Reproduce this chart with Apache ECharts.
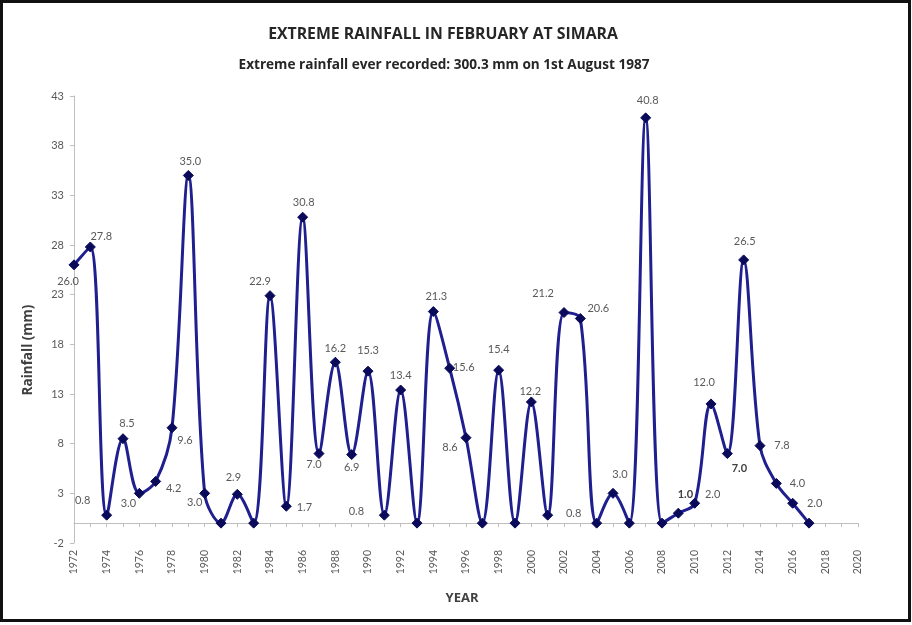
<!DOCTYPE html>
<html>
<head>
<meta charset="utf-8">
<script src="https://cdn.jsdelivr.net/npm/echarts@6/dist/echarts.min.js"></script>
<style>
html,body{margin:0;padding:0;background:#fff;}
#chart{width:912px;height:625px;}
</style>
</head>
<body>
<div id="chart"></div>
<script>
// ---- data ----
var years = [1972,1973,1974,1975,1976,1977,1978,1979,1980,1981,1982,1983,1984,1985,1986,1987,1988,1989,1990,1991,1992,1993,1994,1995,1996,1997,1998,1999,2000,2001,2002,2003,2004,2005,2006,2007,2008,2009,2010,2011,2012,2013,2014,2015,2016,2017];
var rainfall = [26.0,27.8,0.8,8.5,3.0,4.2,9.6,35.0,3.0,0,2.9,0,22.9,1.7,30.8,7.0,16.2,6.9,15.3,0.8,13.4,0,21.3,15.6,8.6,0,15.4,0,12.2,0.8,21.2,20.6,0,3.0,0,40.8,0,1.0,2.0,12.0,7.0,26.5,7.8,4.0,2.0,0];
var yTicks = {min: -2, max: 43, interval: 5};
var xTicks = {min: 1972, max: 2020, interval: 2};
var boldLabelYears = [2009, 2012];

// ---- label placement (style only) ----
var labelOffsets = {
  1972:[-6,17],1973:[11,-11],1974:[-24,-15],1975:[4,-15],1976:[-11,10],1977:[18,7],1978:[13,13],
  1979:[2,-14],1980:[-10,9],1982:[-4,-17],1984:[-10,-14],1985:[18,1],1986:[1,-15],1987:[-5,11],
  1988:[0,-14],1989:[0,13],1990:[0,-21],1991:[-28,-4],1992:[0,-15],1994:[3,-15],1995:[14,-1],
  1996:[-16,10],1998:[0,-21],2000:[-1,-10],2001:[26,-2],2002:[-21,-19],2003:[18,-10],2005:[7,-19],
  2007:[2,-17],2009:[7,-19],2010:[18,-9],2011:[-7,-21],2012:[12,15],2013:[1,-18],2014:[22,0],
  2015:[21,0],2016:[22,0]
};

var FONT = 'Lato, "Open Sans", sans-serif';
var TFONT = '"Open Sans", Lato, sans-serif';
var seriesData = years.map(function(y, i){
  var v = rainfall[i];
  var off = labelOffsets[y];
  var item = {value: [y, v]};
  if (v > 0 && off) {
    item.label = {
      show: true, position: 'inside', offset: off,
      formatter: v.toFixed(1),
      color: boldLabelYears.indexOf(y) >= 0 ? '#404040' : '#595959',
      fontWeight: boldLabelYears.indexOf(y) >= 0 ? 'bold' : 'normal',
      fontSize: 11, fontFamily: FONT
    };
  } else {
    item.label = {show: false};
  }
  return item;
});

var chart = echarts.init(document.getElementById('chart'), null, {renderer: 'canvas'});
chart.setOption({
  backgroundColor: '#fff',
  animation: false,
  title: [
    {text: 'EXTREME RAINFALL IN FEBRUARY AT SIMARA', left: 438, top: 21, textAlign: 'center',
     textStyle: {fontFamily: TFONT, fontSize: 15.8, fontWeight: 'bold', color: '#262626'}},
    {text: 'Extreme rainfall ever recorded: 300.3 mm on 1st August 1987', left: 439, top: 53, textAlign: 'center',
     textStyle: {fontFamily: TFONT, fontSize: 13.6, fontWeight: 'bold', color: '#262626'}},
    {text: 'YEAR', left: 457, top: 587, textAlign: 'center',
     textStyle: {fontFamily: TFONT, fontSize: 13, fontWeight: 'bold', color: '#404040'}}
  ],
  graphic: [
    {type: 'rect', shape: {x: 1.5, y: 1.5, width: 908, height: 619}, style: {fill: 'none', stroke: '#111', lineWidth: 3}, silent: true},
    {type: 'text', x: 28, y: 350, rotation: Math.PI / 2,
     style: {text: 'Rainfall (mm)', align: 'center', verticalAlign: 'middle', font: 'bold 13.5px ' + TFONT, fill: '#404040'}}
  ],
  grid: {left: 74, right: 54, top: 96, bottom: 82, containLabel: false},
  xAxis: {
    type: 'value', min: xTicks.min, max: xTicks.max, interval: xTicks.interval,
    axisLine: {show: true, onZero: true, lineStyle: {color: '#bfbfbf', width: 1}},
    axisTick: {show: true, length: 4, lineStyle: {color: '#bfbfbf'}},
    minorTick: {show: true, splitNumber: 2, length: 4, lineStyle: {color: '#bfbfbf'}},
    splitLine: {show: false},
    minorSplitLine: {show: false},
    axisLabel: {rotate: 90, margin: 7, fontSize: 10.5, color: '#595959', fontFamily: FONT,
      formatter: function(v){ return String(v); }}
  },
  yAxis: {
    type: 'value', min: yTicks.min, max: yTicks.max, interval: yTicks.interval,
    axisLine: {show: true, lineStyle: {color: '#bfbfbf', width: 1}},
    axisTick: {show: true, length: 4, lineStyle: {color: '#bfbfbf'}},
    splitLine: {show: false},
    axisLabel: {fontSize: 11, color: '#595959', fontFamily: FONT, margin: 10}
  },
  series: [{
    type: 'line',
    data: seriesData,
    smooth: 0.35,
    symbol: 'diamond',
    symbolSize: 10,
    lineStyle: {color: '#1f1f8f', width: 3},
    itemStyle: {color: '#0a0a5a', borderColor: '#0a0a5a'},
    z: 3
  }]
});
</script>
</body>
</html>
